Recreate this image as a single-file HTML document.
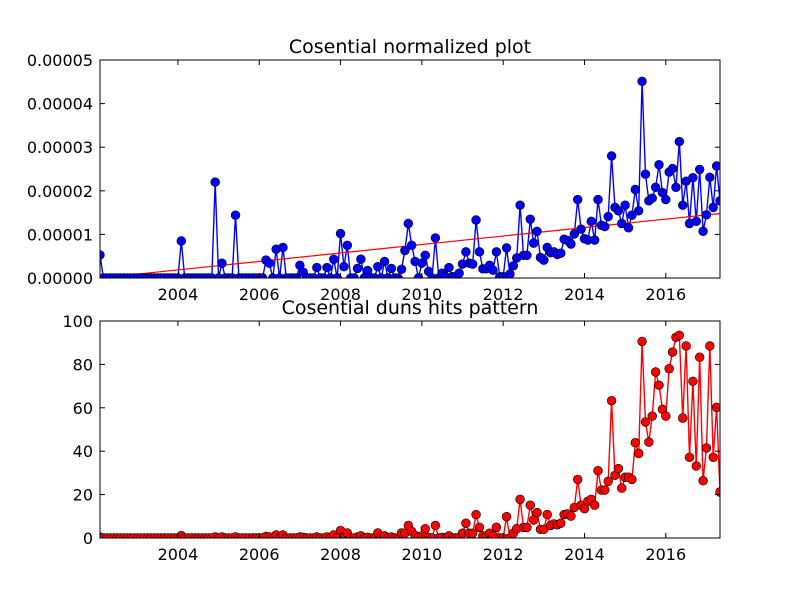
<!DOCTYPE html>
<html><head><meta charset="utf-8"><style>
html,body{margin:0;padding:0;background:#fff;}
svg{display:block;font-family:"DejaVu Sans","Liberation Sans",sans-serif;}
</style></head><body>
<svg id="fig" width="800" height="600" viewBox="0 0 800 600"></svg>
<script>
const normValues = [
5.3,0,0,0,0,0,0,0,0,0,
0,0,0,0,0,0,0,0,0,0,
0,0,0,0,8.5,0,0,0,0,0,
0,0,0,0,22.0,0,3.4,0,0,0,
14.4,0,0,0,0,0,0,0,0,4.1,
3.4,0,6.6,0,7.0,0,0,0,0,2.9,
1.3,0,0,0,2.4,0,0,2.4,0,4.3,
0,10.2,2.6,7.5,0,0,2.2,4.3,0,1.7,
0,0,2.6,0,3.8,0,2.2,0,0,2.0,
6.3,12.5,7.5,3.8,0,3.4,5.2,1.5,0,9.2,
0,1.1,0.3,2.4,0.3,0.3,1.1,3.2,6.0,3.4,
3.2,13.3,6.0,2.1,2.1,2.9,1.8,6.0,0.3,0.3,
6.9,0.9,2.8,4.6,16.7,5.2,5.2,13.5,8.0,10.7,
4.7,4.1,7.0,5.8,6.0,5.4,5.7,8.9,8.6,7.8,
10.1,18.0,11.2,9.0,8.7,13.0,8.7,18.0,12.1,11.8,
14.1,28.0,16.2,15.4,12.5,16.7,11.5,14.4,20.3,15.4,
45.1,23.8,17.7,18.3,20.8,26.0,19.6,18.0,24.3,25.1,
20.8,31.3,16.7,22.2,12.5,23.0,13.0,24.9,10.7,14.5,
23.1,16.2,25.7,17.7];
const hitsValues = [
0.4,0,0,0,0,0,0,0,0,0,
0,0,0,0,0,0,0,0,0,0,
0,0,0,0,1.1,0,0,0,0,0,
0,0,0,0,0.5,0,0.5,0,0,0,
0.5,0,0,0,0,0,0,0,0,0.8,
0.5,0,1.4,0,1.4,0,0,0,0,0.5,
0.3,0,0,0,0.5,0,0,0.5,0,1.4,
0,3.5,0.5,2.3,0,0,0.5,1.0,0,0.3,
0,0,2.3,0,1.0,0,0.5,0,0,2.3,
2.2,5.8,3.1,1.2,0.3,1.0,4.3,0.3,0,5.8,
0,0.3,0,1.0,0,0,0.3,2.2,6.8,2.2,
2.2,10.8,4.9,1.0,1.0,2.2,1.0,4.9,0,0,
9.8,0,2.2,4.3,17.8,4.9,4.9,15.1,8.3,11.7,
4.0,4.0,10.8,5.8,6.5,6.1,6.8,10.8,11.1,10.1,
14.1,27.0,15.1,13.5,16.9,17.8,15.1,31.0,22.1,22.1,
26.1,63.3,28.9,32.0,23.0,28.0,28.0,27.0,43.9,39.0,
90.6,53.5,44.2,56.2,76.5,70.4,59.3,56.2,78.0,85.7,
92.5,93.4,55.3,88.5,37.2,72.2,33.2,83.3,26.4,41.5,
88.5,37.2,60.2,21.2];
const trendValues = [0.0, 14.8];
const startYear = 2002;
const startMonth = 2;
const xTickYears = [2004,2006,2008,2010,2012,2014,2016];
const topYTicks = [0,10,20,30,40,50];
const topYLabels = ["0.00000","0.00001","0.00002","0.00003","0.00004","0.00005"];
const botYTicks = [0,20,40,60,80,100];
const botYLabels = ["0","20","40","60","80","100"];

const NS="http://www.w3.org/2000/svg";
const svg=document.getElementById('fig');
function mk(tag,attrs,parent){const e=document.createElementNS(NS,tag);for(const k in attrs)e.setAttribute(k,attrs[k]);(parent||svg).appendChild(e);return e;}
const n=normValues.length;
const d0=startYear+(startMonth-1)/12, d1=d0+(n-1)/12;
const L=100,R=720;
function xs(d){return L+(d-d0)/(d1-d0)*(R-L);}
function dateOf(i){return d0+i/12;}

function panel(name,top,bot,ymax,vals,color,yTicks,yLabels,title,trend){
  const ys=v=>bot-(v/ymax)*(bot-top);
  const g=mk('g',{});
  
  
  const cid='clip-'+name;
  const cp=mk('clipPath',{id:cid},g);mk('rect',{x:L,y:top,width:R-L,height:bot-top},cp);
  const plot=mk('g',{'clip-path':'url(#'+cid+')'},g);
  
  
  const pts=vals.map((v,i)=>xs(dateOf(i)).toFixed(2)+','+ys(v).toFixed(2)).join(' ');
  const line=mk('polyline',{points:pts,fill:'none',stroke:color,'stroke-width':1.4},plot);
  
  
  if(trend){
    const t=mk('line',{x1:xs(dateOf(0)),y1:ys(trend[0]),x2:xs(dateOf(n-1)),y2:ys(trend[1]),stroke:'#ff0000','stroke-width':1.2},plot);
    
    
  }
  vals.forEach((v,i)=>{
    const c=mk('circle',{cx:xs(dateOf(i)),cy:ys(v),r:4.4,fill:color,stroke:'#000','stroke-width':0.6},plot);
    
    
  });
  const frame=mk('rect',{x:L,y:top,width:R-L,height:bot-top,fill:'none',stroke:'#000','stroke-width':1},g);
  
  
  xTickYears.forEach(yr=>{
    const x=xs(yr);
    mk('line',{x1:x,y1:bot,x2:x,y2:bot-5,stroke:'#000','stroke-width':1},g);
    mk('line',{x1:x,y1:top,x2:x,y2:top+5,stroke:'#000','stroke-width':1},g);
    const t=mk('text',{x:x,y:bot+22,'font-size':16,'text-anchor':'middle',fill:'#000'},g);
    t.textContent=String(yr);
    
    
  });
  yTicks.forEach((v,k)=>{
    const y=ys(v);
    mk('line',{x1:L,y1:y,x2:L+5,y2:y,stroke:'#000','stroke-width':1},g);
    mk('line',{x1:R,y1:y,x2:R-5,y2:y,stroke:'#000','stroke-width':1},g);
    const t=mk('text',{x:L-7,y:y+6,'font-size':16,'text-anchor':'end',fill:'#000'},g);
    t.textContent=yLabels[k];
    
    
  });
  const tt=mk('text',{x:(L+R)/2,y:top-7,'font-size':19,'text-anchor':'middle',fill:'#000'},g);
  tt.textContent=title;
  
  
}
panel('normalized-chart',60,278,50,normValues,'#0000ff',topYTicks,topYLabels,'Cosential normalized plot',trendValues);
panel('hits-chart',321,538,100,hitsValues,'#ff0000',botYTicks,botYLabels,'Cosential duns hits pattern',null);
</script>
</body></html>
